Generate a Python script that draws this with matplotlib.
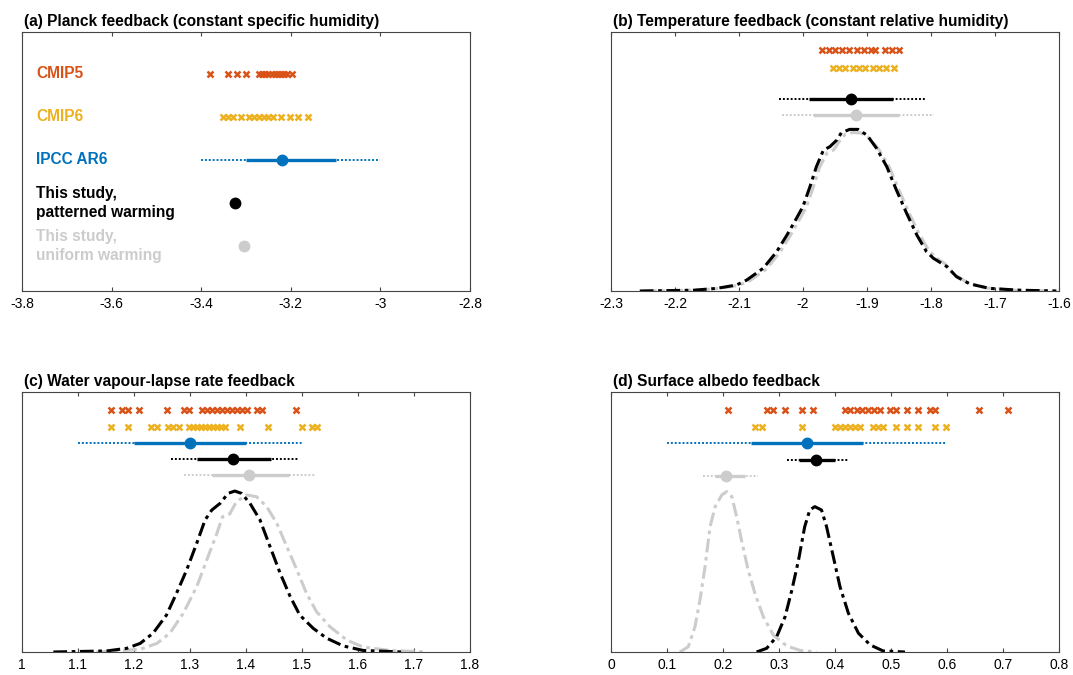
import numpy as np
import matplotlib.pyplot as plt

plt.rcParams['font.family'] = ['Liberation Sans', 'DejaVu Sans']

# colours
c_cmip5 = '#D95319'
c_cmip6 = '#EDB120'
c_ipcc = '#0072BD'
c_pat = 'black'
c_uni = '#CCCCCC'

# ---------------- (a) Planck feedback ----------------
a_cmip5 = [-3.380, -3.341, -3.321, -3.301, -3.271, -3.264, -3.257, -3.250, -3.243,
           -3.236, -3.229, -3.222, -3.215, -3.208, -3.198]
a_cmip6 = [-3.352, -3.340, -3.328, -3.311, -3.293, -3.282, -3.271, -3.260, -3.250,
           -3.239, -3.222, -3.202, -3.185, -3.161]
a_ipcc = (-3.22, (-3.30, -3.10), (-3.40, -3.00))
a_pat = -3.325
a_uni = -3.304

# ---------------- (b) Temperature feedback ----------------
b_cmip5 = [-1.971, -1.960, -1.950, -1.939, -1.928, -1.916, -1.905, -1.894, -1.888,
           -1.872, -1.861, -1.850]
b_cmip6 = [-1.953, -1.943, -1.934, -1.922, -1.912, -1.903, -1.891, -1.881, -1.870, -1.858]
b_pat = (-1.925, (-1.991, -1.859), (-2.038, -1.808))
b_uni = (-1.917, (-1.985, -1.850), (-2.033, -1.796))
b_pat_x = [-2.255, -2.171, -2.135, -2.104, -2.088, -2.062, -2.041, -2.025, -2.010, -2.000,
           -1.989, -1.979, -1.968, -1.958, -1.947, -1.940, -1.927, -1.914, -1.900, -1.885,
           -1.869, -1.854, -1.838, -1.822, -1.807, -1.796, -1.775, -1.760, -1.739, -1.708,
           -1.661, -1.604]
b_pat_y = [0.0, 0.003, 0.010, 0.023, 0.042, 0.088, 0.152, 0.216, 0.281, 0.326,
           0.403, 0.480, 0.544, 0.557, 0.583, 0.611, 0.624, 0.624, 0.602, 0.551,
           0.480, 0.390, 0.300, 0.216, 0.152, 0.126, 0.094, 0.055, 0.027, 0.010,
           0.003, 0.0]
b_uni_x = [-2.250, -2.170, -2.130, -2.100, -2.083, -2.057, -2.036, -2.020, -2.005, -1.995,
           -1.984, -1.974, -1.962, -1.952, -1.944, -1.934, -1.922, -1.909, -1.896, -1.881,
           -1.865, -1.850, -1.834, -1.818, -1.803, -1.790, -1.778, -1.765, -1.745, -1.715,
           -1.670, -1.600]
b_uni_y = [0.0, 0.003, 0.010, 0.022, 0.040, 0.085, 0.150, 0.213, 0.278, 0.322,
           0.400, 0.478, 0.535, 0.545, 0.575, 0.605, 0.612, 0.610, 0.590, 0.545,
           0.478, 0.390, 0.300, 0.218, 0.155, 0.125, 0.105, 0.068, 0.035, 0.012,
           0.003, 0.0]

# ---------------- (c) Water vapour-lapse rate feedback ----------------
c_cmip5_v = [1.159, 1.178, 1.189, 1.209, 1.259, 1.289, 1.299, 1.321, 1.330, 1.339,
             1.348, 1.357, 1.366, 1.375, 1.384, 1.393, 1.401, 1.419, 1.429, 1.489]
c_cmip6_v = [1.159, 1.190, 1.230, 1.241, 1.260, 1.270, 1.281, 1.299, 1.306, 1.313,
             1.320, 1.327, 1.334, 1.341, 1.348, 1.355, 1.362, 1.389, 1.440, 1.500,
             1.517, 1.526]
c_ipcc_v = (1.30, (1.20, 1.40), (1.10, 1.50))
c_pat_v = (1.377, (1.312, 1.444), (1.266, 1.495))
c_uni_v = (1.406, (1.339, 1.476), (1.290, 1.524))
c_pat_x = [1.056, 1.151, 1.187, 1.211, 1.234, 1.258, 1.276, 1.294, 1.312, 1.327,
           1.339, 1.354, 1.368, 1.380, 1.392, 1.407, 1.425, 1.443, 1.461, 1.479,
           1.496, 1.520, 1.544, 1.574, 1.609, 1.681]
c_pat_y = [0.0, 0.004, 0.014, 0.033, 0.072, 0.142, 0.226, 0.315, 0.418, 0.508,
           0.546, 0.572, 0.610, 0.619, 0.610, 0.572, 0.508, 0.405, 0.303, 0.213,
           0.142, 0.091, 0.053, 0.023, 0.006, 0.0]
c_uni_x = [1.133, 1.211, 1.241, 1.264, 1.288, 1.312, 1.330, 1.348, 1.358, 1.371,
           1.383, 1.401, 1.419, 1.437, 1.455, 1.473, 1.491, 1.508, 1.526, 1.550,
           1.580, 1.609, 1.657, 1.723]
c_uni_y = [0.0, 0.010, 0.033, 0.072, 0.149, 0.251, 0.354, 0.456, 0.520, 0.531,
           0.578, 0.604, 0.597, 0.559, 0.495, 0.405, 0.315, 0.226, 0.155, 0.097,
           0.046, 0.019, 0.006, 0.0]

# ---------------- (d) Surface albedo feedback ----------------
d_cmip5 = [0.209, 0.279, 0.289, 0.311, 0.341, 0.361, 0.418, 0.427, 0.439, 0.448,
           0.459, 0.470, 0.480, 0.498, 0.509, 0.529, 0.548, 0.570, 0.579, 0.658, 0.709]
d_cmip6 = [0.257, 0.269, 0.341, 0.400, 0.409, 0.418, 0.427, 0.436, 0.444, 0.468,
           0.477, 0.486, 0.509, 0.528, 0.549, 0.579, 0.599]
d_ipcc = (0.35, (0.25, 0.45), (0.10, 0.60))
d_pat = (0.367, (0.336, 0.400), (0.314, 0.425))
d_uni = (0.205, (0.186, 0.239), (0.164, 0.263))
d_pat_x = [0.260, 0.278, 0.296, 0.311, 0.323, 0.335, 0.346, 0.355, 0.364, 0.376,
           0.385, 0.397, 0.409, 0.424, 0.442, 0.463, 0.486, 0.525]
d_pat_y = [0.0, 0.014, 0.059, 0.136, 0.238, 0.354, 0.482, 0.546, 0.559, 0.546,
           0.482, 0.367, 0.251, 0.149, 0.072, 0.027, 0.004, 0.0]
d_uni_x = [0.123, 0.138, 0.150, 0.159, 0.168, 0.177, 0.186, 0.198, 0.207, 0.216,
           0.225, 0.233, 0.245, 0.257, 0.272, 0.290, 0.314, 0.338, 0.367]
d_uni_y = [0.0, 0.020, 0.097, 0.200, 0.328, 0.482, 0.559, 0.604, 0.617, 0.597,
           0.514, 0.431, 0.315, 0.226, 0.136, 0.065, 0.023, 0.006, 0.0]

# row heights (fraction of axes height) for the lower/right panels
row_cmip5, row_cmip6, row_ipcc, row_pat, row_uni = 0.930, 0.866, 0.803, 0.742, 0.681

dashdot = (0, (4.5, 1.5, 1.2, 1.5))


def style_axes(ax, xlim, ticks, labels, title):
    ax.set_xlim(xlim)
    ax.set_xticks(ticks)
    ax.set_xticklabels(labels)
    ax.set_yticks([])
    ax.tick_params(axis='x', direction='in', length=3, top=True, labelsize=10,
                   color='#444444', pad=4)
    for s in ax.spines.values():
        s.set_color('#444444')
        s.set_linewidth(0.8)
    ax.set_title(title, loc='left', fontsize=11.2, fontweight='bold', pad=4, x=0.005)


def draw_range(ax, y, vals, color):
    center, likely, vlikely = vals
    ax.plot([vlikely[0], vlikely[1]], [y, y], color=color, lw=1.4, ls=(0, (1, 1)),
            solid_capstyle='butt')
    ax.plot([likely[0], likely[1]], [y, y], color=color, lw=2.4, solid_capstyle='butt')
    ax.plot([center], [y], 'o', color=color, ms=7.5)


def draw_crosses(ax, xs, y, color):
    ax.plot(xs, [y] * len(xs), 'x', color=color, ms=5, mew=1.8)


fig = plt.figure(figsize=(10.73, 6.75), dpi=100)
ax_a = fig.add_axes([0.0205, 0.5689, 0.4175, 0.3837])
ax_b = fig.add_axes([0.5694, 0.5689, 0.4175, 0.3837])
ax_c = fig.add_axes([0.0205, 0.0341, 0.4175, 0.3852])
ax_d = fig.add_axes([0.5694, 0.0341, 0.4175, 0.3852])

# (a)
draw_crosses(ax_a, a_cmip5, 5, c_cmip5)
draw_crosses(ax_a, a_cmip6, 4, c_cmip6)
draw_range(ax_a, 3, a_ipcc, c_ipcc)
ax_a.plot([a_pat], [2], 'o', color=c_pat, ms=7.5)
ax_a.plot([a_uni], [1], 'o', color=c_uni, ms=7.5)
ax_a.set_ylim(-0.05, 5.97)
lab_kw = dict(fontsize=11.2, fontweight='bold', va='center', ha='left')
ax_a.text(-3.768, 5, 'CMIP5', color=c_cmip5, **lab_kw)
ax_a.text(-3.768, 4, 'CMIP6', color=c_cmip6, **lab_kw)
ax_a.text(-3.768, 3, 'IPCC AR6', color=c_ipcc, **lab_kw)
ax_a.text(-3.768, 2, 'This study,\npatterned warming', color=c_pat, linespacing=1.3, **lab_kw)
ax_a.text(-3.768, 1, 'This study,\nuniform warming', color=c_uni, linespacing=1.3, **lab_kw)
style_axes(ax_a, (-3.8, -2.8), [-3.8, -3.6, -3.4, -3.2, -3.0, -2.8],
           ['-3.8', '-3.6', '-3.4', '-3.2', '-3', '-2.8'],
           '(a) Planck feedback (constant specific humidity)')

# (b)
ax_b.plot(b_uni_x, b_uni_y, color=c_uni, lw=2.2, ls=dashdot)
ax_b.plot(b_pat_x, b_pat_y, color=c_pat, lw=2.2, ls=dashdot)
draw_crosses(ax_b, b_cmip5, row_cmip5, c_cmip5)
draw_crosses(ax_b, b_cmip6, row_cmip6 - 0.005, c_cmip6)
draw_range(ax_b, row_pat, b_pat, c_pat)
draw_range(ax_b, row_uni, b_uni, c_uni)
ax_b.set_ylim(0, 1)
style_axes(ax_b, (-2.3, -1.6), [-2.3, -2.2, -2.1, -2.0, -1.9, -1.8, -1.7, -1.6],
           ['-2.3', '-2.2', '-2.1', '-2', '-1.9', '-1.8', '-1.7', '-1.6'],
           '(b) Temperature feedback (constant relative humidity)')

# (c)
ax_c.plot(c_uni_x, c_uni_y, color=c_uni, lw=2.2, ls=dashdot)
ax_c.plot(c_pat_x, c_pat_y, color=c_pat, lw=2.2, ls=dashdot)
draw_crosses(ax_c, c_cmip5_v, row_cmip5, c_cmip5)
draw_crosses(ax_c, c_cmip6_v, row_cmip6, c_cmip6)
draw_range(ax_c, row_ipcc, c_ipcc_v, c_ipcc)
draw_range(ax_c, row_pat, c_pat_v, c_pat)
draw_range(ax_c, row_uni, c_uni_v, c_uni)
ax_c.set_ylim(0, 1)
style_axes(ax_c, (1.0, 1.8), [1.0, 1.1, 1.2, 1.3, 1.4, 1.5, 1.6, 1.7, 1.8],
           ['1', '1.1', '1.2', '1.3', '1.4', '1.5', '1.6', '1.7', '1.8'],
           '(c) Water vapour-lapse rate feedback')

# (d)
ax_d.plot(d_uni_x, d_uni_y, color=c_uni, lw=2.2, ls=dashdot)
ax_d.plot(d_pat_x, d_pat_y, color=c_pat, lw=2.2, ls=dashdot)
draw_crosses(ax_d, d_cmip5, row_cmip5, c_cmip5)
draw_crosses(ax_d, d_cmip6, row_cmip6, c_cmip6)
draw_range(ax_d, row_ipcc, d_ipcc, c_ipcc)
draw_range(ax_d, row_pat - 0.003, d_pat, c_pat)
draw_range(ax_d, row_uni - 0.005, d_uni, c_uni)
ax_d.set_ylim(0, 1)
style_axes(ax_d, (0.0, 0.8), [0, 0.1, 0.2, 0.3, 0.4, 0.5, 0.6, 0.7, 0.8],
           ['0', '0.1', '0.2', '0.3', '0.4', '0.5', '0.6', '0.7', '0.8'],
           '(d) Surface albedo feedback')

fig.savefig('out.png', dpi=100)
